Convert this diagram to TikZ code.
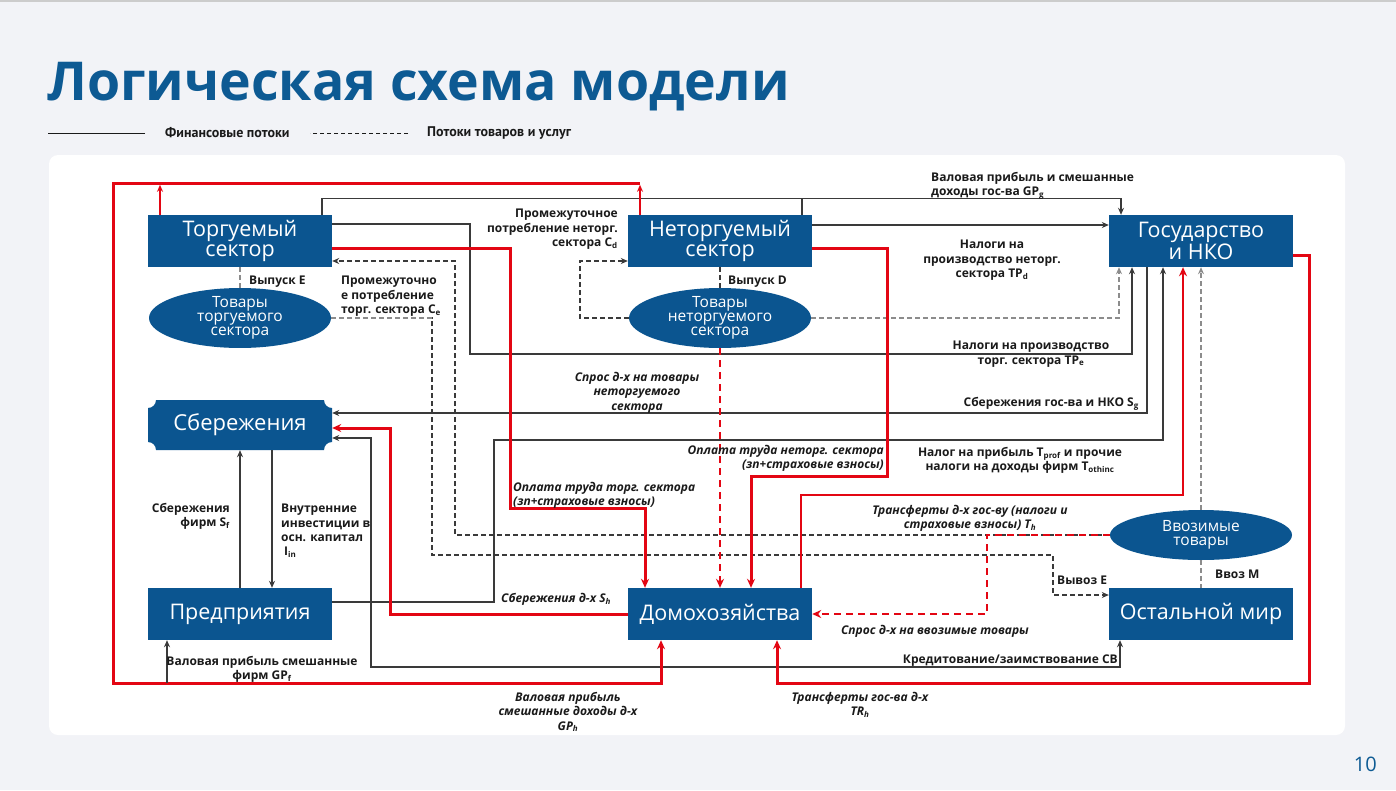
\documentclass[tikz,border=0pt]{standalone}
\usepackage{fontspec}
\setmainfont{Open Sans}
\newfontfamily\legfont{PT Sans}
\usetikzlibrary{shapes.geometric,arrows.meta,calc}
\definecolor{myblue}{HTML}{0B5590}
\definecolor{titleblue}{HTML}{0D5A93}
\definecolor{myred}{HTML}{E30613}
\definecolor{lgray}{HTML}{3A3A3A}
\definecolor{dgray}{HTML}{8C8C8C}
\definecolor{bgc}{HTML}{F2F3F7}
\definecolor{txt}{HTML}{1A1A1A}
\tikzset{
 box/.style={fill=myblue, text=white, minimum width=184pt, minimum height=52pt, inner sep=0pt, align=center, font=\fontsize{21.5}{20}\selectfont},
 savtxt/.style={text=white, minimum width=184pt, minimum height=50pt, inner sep=0pt, font=\fontsize{22}{20}\selectfont},
 ell/.style={ellipse, fill=myblue, text=white, minimum width=182pt, minimum height=50pt, inner sep=0pt, align=center, font=\fontsize{15.5}{13.8}\selectfont},
 lbl/.style={font=\bfseries\fontsize{12}{14.3}\selectfont, text=txt, inner sep=0pt},
 ilbl/.style={font=\bfseries\itshape\fontsize{12}{14.3}\selectfont, text=txt, inner sep=0pt},
 legend/.style={font=\legfont\bfseries\fontsize{14}{14}\selectfont, text=txt, inner sep=0pt},
 arr/.style={-{Stealth[length=7pt,width=6pt]}},
 rarr/.style={-{Stealth[length=9pt,width=8pt]}},
 fin/.style={draw=lgray, line width=1.1pt},
 redf/.style={draw=myred, line width=3pt},
 redm/.style={draw=myred, line width=2.4pt},
 redt/.style={draw=myred, line width=1.3pt},
 gdash/.style={draw=dgray, line width=1.1pt, dash pattern=on 5pt off 3pt},
 kdash/.style={draw=lgray, line width=1.1pt, dash pattern=on 5pt off 3pt},
 rdash/.style={draw=myred, line width=2.4pt, dash pattern=on 7pt off 5pt},
}
\begin{document}
\begin{tikzpicture}[x=1pt,y=-1pt]
\useasboundingbox (0,0) rectangle (1396,790);
\fill[bgc] (0,0) rectangle (1396,790);
\draw[line width=1.5pt, draw=black!20] (0,1) -- (1396,1);
\fill[white, rounded corners=9pt] (49,155) rectangle (1345,735);

% title and legend
\node[anchor=base west, text=titleblue, font=\bfseries\fontsize{53.6}{54}\selectfont, inner sep=0pt] (title) at (47,100) {Логическая схема модели};
\node[legend, anchor=west] (leg1) at (165,133) {Финансовые потоки};
\node[legend, anchor=west] (leg2) at (427,133) {Потоки товаров и услуг};
\draw[line width=0.8pt, draw=txt] ([xshift=-20pt]leg1.west) -- ++(-97,0);
\draw[line width=0.8pt, draw=txt, dash pattern=on 4pt off 3pt] ([xshift=-19pt]leg2.west) -- ++(-98,0);
\node[anchor=base east, text=titleblue, font=\fontsize{20}{20}\selectfont, inner sep=0pt] (pnum) at (1377,771) {10};

% Сбережения shape
\path[fill=myblue] (156,400) -- (324,400) arc[start angle=180,end angle=270,radius=8pt]
  -- (332,442) arc[start angle=90,end angle=180,radius=8pt]
  -- (156,450) arc[start angle=0,end angle=90,radius=8pt]
  -- (148,408) arc[start angle=270,end angle=360,radius=8pt] -- cycle;

% nodes
\node[box] (ts) at (240,241) {Торгуемый\\сектор};
\node[box] (nts) at (720,241) {Неторгуемый\\сектор};
\node[box] (gov) at (1201,241) {Государство\\и НКО};
\node[ell] (tg) at (240,318) {Товары\\торгуемого\\сектора};
\node[ell] (ntg) at (720,318) {Товары\\неторгуемого\\сектора};
\node[savtxt] (sav) at (240,425) {Сбережения};
\node[box] (ent) at (240,614) {Предприятия};
\node[box] (hh) at (720,614) {Домохозяйства};
\node[box] (row) at (1201,614) {Остальной мир};
\node[ell] (imp) at (1201,535) {Ввозимые\\товары};

% dashed goods flows
\draw[gdash] (ts.south) -- (tg.north);
\draw[kdash] (nts.south) -- (ntg.north);
\draw[kdash, arr] (ntg.west) -- (580,318) -- (580,261) -- ([yshift=-20pt]nts.west);
\draw[gdash, arr] (ntg.east) -| ([xshift=-82pt]gov.south);
\draw[kdash, arr] (tg.east) -- (432,318) -- (432,555) -- (1053,555) -- (1053,595) -- ([yshift=19pt]row.west);
\draw[gdash, draw=white, dash pattern=] (tg.east) -- (431,318);
\draw[gdash] (tg.east) -- (432,318);
\draw[kdash, arr] (imp.west) -- (455,535) -- (455,261) -- ([yshift=-20pt]ts.east);
\draw[gdash] (imp.south) -- (row.north);
\draw[gdash, arr] (imp.north) -- (gov.south);

% financial flows (gray)
\draw[fin, arr] ([xshift=82pt]ts.north) -- ++(0,-16) -| ([xshift=-80pt]gov.north);
\draw[fin] ([xshift=82pt]nts.north) -- ++(0,-16);
\draw[fin, arr] ([yshift=16pt]nts.east) -- ([yshift=16pt]gov.west);
\draw[fin, arr] ([yshift=17pt]ts.east) -- (470,224) -- (470,354) -| ([xshift=-69pt]gov.south);
\draw[fin, arr] ([xshift=-54pt]gov.south) |- ([yshift=12pt]sav.east);
\draw[fin, arr] ([yshift=12pt]ent.east) -- (494,602) -- (494,440) -| ([xshift=-38pt]gov.south);
\draw[fin, {Stealth[length=7pt,width=6pt]}-{Stealth[length=7pt,width=6pt]}] ([yshift=-13pt]sav.east) -- (371,438) -- (371,667) -| ([xshift=-81pt]row.south);
\draw[fin, arr] (ent.north) -- (sav.south);
\draw[fin, arr] ([xshift=32pt]sav.south) -- ([xshift=32pt]ent.north);

% red financial flows
\coordinate (gptop) at (640,183);
\coordinate (gpfj) at (167,683);
\draw[redf, rarr] (gptop) -- (113,183) -- (113,683) -| ([xshift=-59pt]hh.south);
\draw[redt, arr] ([xshift=-80pt]ts.north) -- ++(0,-30);
\draw[redt, arr] ([xshift=-80pt]nts.north) -- ++(0,-30);
\draw[fin, arr] (gpfj) -- ([xshift=-73pt]ent.south);
\draw[redf, rarr] ([yshift=-14pt]gov.east) -- (1309,255) -- (1309,683) -| ([xshift=57pt]hh.south);
\draw[redf, rarr] ([yshift=-7pt]ts.east) -- (510,248) -- (510,508) -| ([xshift=-75pt]hh.north);
\draw[redf, rarr] ([yshift=-7pt]nts.east) -- (887,248) -- (887,476) -| ([xshift=31pt]hh.north);
\draw[redm, rarr] ([xshift=81pt]hh.north) -- (801,495) -| ([xshift=-18pt]gov.south);
\draw[redf, rarr] (hh.west) -- (390,614) -- (390,428) -- ([yshift=-3pt]sav.east);
\draw[rdash, rarr] (imp.west) -- (987,535) -- (987,614) -- (hh.east);
\draw[rdash, rarr] (ntg.south) -- (hh.north);

% labels
\node[lbl, anchor=north west] (lE) at (249,276) {Выпуск E};
\node[lbl, anchor=north west, align=left] (lCe) at (341,276) {Промежуточно\\е потребление\\торг. сектора C\textsubscript{e}};
\node[lbl, anchor=north east, align=right] (lCd) at (618,209) {Промежуточное\\потребление неторг.\\сектора C\textsubscript{d}};
\node[lbl, anchor=north west] (lD) at (728,276) {Выпуск D};
\node[lbl, anchor=north west, align=left] (lGPg) at (931,172) {Валовая прибыль и смешанные\\доходы гос-ва GP\textsubscript{g}};
\node[lbl, anchor=north, align=center] (lTPd) at (992,240) {Налоги на\\производство неторг.\\сектора TP\textsubscript{d}};
\node[lbl, anchor=north, align=center] (lTPe) at (1031,341) {Налоги на производство\\торг. сектора TP\textsubscript{e}};
\node[ilbl, anchor=north, align=center] (lDnt) at (637,372) {Спрос д-х на товары\\неторгуемого\\сектора};
\node[lbl, anchor=north east] (lSg) at (1139,397) {Сбережения гос-ва и НКО S\textsubscript{g}};
\node[ilbl, anchor=north east, align=right] (lWnt) at (884,445) {Оплата труда неторг. сектора\\(зп+страховые взносы)};
\node[lbl, anchor=north, align=center] (lTprof) at (1020,447) {Налог на прибыль T\textsubscript{prof} и прочие\\налоги на доходы фирм T\textsubscript{othinc}};
\node[ilbl, anchor=north west, align=left] (lWt) at (513,482) {Оплата труда торг. сектора\\(зп+страховые взносы)};
\node[ilbl, anchor=north, align=center] (lTh) at (970,505) {Трансферты д-х гос-ву (налоги и\\страховые взносы) T\textsubscript{h}};
\node[lbl, anchor=north east, align=right] (lSf) at (230,503) {Сбережения\\фирм S\textsubscript{f}};
\node[lbl, anchor=north west, align=left] (lIin) at (281,504) {Внутренние\\инвестиции в\\осн. капитал\\\hspace*{3pt}I\textsubscript{in}};
\node[lbl, anchor=north west] (lEx) at (1057,576) {Вывоз E};
\node[lbl, anchor=north west] (lIm) at (1215,570) {Ввоз M};
\node[ilbl, anchor=north west] (lSh) at (501,593) {Сбережения д-х S\textsubscript{h}};
\node[ilbl, anchor=north east] (lDim) at (1029,625) {Спрос д-х на ввозимые товары};
\node[lbl, anchor=north east] (lCB) at (1118,655) {Кредитование/заимствование CB};
\node[lbl, anchor=north, align=center] (lGPf) at (262,656) {Валовая прибыль смешанные\\фирм GP\textsubscript{f}};
\node[ilbl, anchor=north, align=center] (lGPh) at (568,692) {Валовая прибыль\\смешанные доходы д-х\\GP\textsubscript{h}};
\node[ilbl, anchor=north, align=center] (lTRh) at (860,692) {Трансферты гос-ва д-х\\TR\textsubscript{h}};
\end{tikzpicture}
\end{document}
